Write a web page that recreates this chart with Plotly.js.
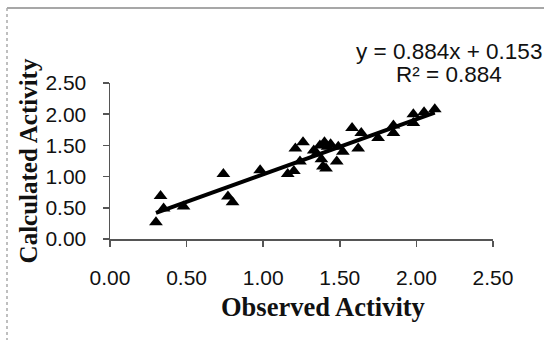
<!DOCTYPE html>
<html>
<head>
<meta charset="utf-8">
<script src="https://cdn.plot.ly/plotly-3.0.1.min.js"></script>
<style>html,body{margin:0;padding:0;background:#fff;}#chart{width:544px;height:340px;}</style>
</head>
<body>
<div id="chart"></div>
<script>
// Observed vs calculated activity
const observed = [0.30, 0.33, 0.35, 0.48, 0.74, 0.77, 0.80, 0.98, 1.16, 1.20, 1.21, 1.26, 1.24, 1.35, 1.37, 1.40, 1.44, 1.39, 1.41, 1.48, 1.49, 1.52, 1.58, 1.62, 1.64, 1.75, 1.85, 1.85, 1.98, 1.98, 2.05, 2.12, 1.42, 1.33, 1.38];
const calculated = [0.27, 0.69, 0.49, 0.52, 1.04, 0.68, 0.59, 1.10, 1.04, 1.09, 1.45, 1.55, 1.24, 1.37, 1.50, 1.55, 1.52, 1.16, 1.13, 1.24, 1.48, 1.40, 1.78, 1.45, 1.70, 1.62, 1.82, 1.70, 2.00, 1.86, 2.03, 2.08, 1.48, 1.42, 1.28];
const slope = 0.884;
const intercept = 0.153;
const r2 = 0.884;
const tickVals = [0, 0.5, 1.0, 1.5, 2.0, 2.5];
const tickText = ["0.00", "0.50", "1.00", "1.50", "2.00", "2.50"];
const xTitle = "Observed Activity";
const yTitle = "Calculated Activity";

const xMin = Math.min(...observed), xMax = Math.max(...observed);
const fitX = [xMin, xMax];
const fitY = fitX.map(v => slope * v + intercept);

const traces = [
  {x: fitX, y: fitY, mode: 'lines', line: {color: '#000', width: 4}, hoverinfo: 'skip'},
  {x: observed, y: calculated, mode: 'markers', marker: {symbol: 'triangle-up', size: 12, color: '#000'}}
];

const sans = 'Arial, "Liberation Sans", sans-serif';
const serif = '"Times New Roman", "Liberation Serif", serif';
const tickFont = {family: sans, size: 21, color: '#111'};

// pixel helpers for paper coordinates (plot area 110..493 x 83..239)
const px = p => (p - 110) / 383;
const py = p => (239 - p) / 156;

const layout = {
  width: 544, height: 340,
  margin: {l: 110, r: 51, t: 83, b: 101},
  paper_bgcolor: '#fff', plot_bgcolor: '#fff',
  showlegend: false,
  xaxis: {
    range: [0, 2.5], tickvals: tickVals, ticktext: tickText,
    showgrid: false, zeroline: false, showline: true, linecolor: '#555', linewidth: 1.5,
    ticks: 'outside', ticklen: 6, tickcolor: '#555', tickwidth: 1.5,
    tickfont: tickFont, ticklabelstandoff: 13
  },
  yaxis: {
    range: [0, 2.5], tickvals: tickVals, ticktext: tickText,
    showgrid: false, zeroline: false, showline: true, linecolor: '#555', linewidth: 1.5,
    ticks: 'outside', ticklen: 6, tickcolor: '#555', tickwidth: 1.5,
    tickfont: tickFont, ticklabelstandoff: 12,
    title: {text: '<b>' + yTitle + '</b>', font: {family: serif, size: 25, color: '#111'}, standoff: 0}
  },
  annotations: [
    {xref: 'paper', yref: 'paper', x: px(323), y: py(307), xanchor: 'center', yanchor: 'middle',
     text: '<b>' + xTitle + '</b>', showarrow: false,
     font: {family: serif, size: 26.5, color: '#111'}},
    {xref: 'paper', yref: 'paper', x: px(449), y: py(51), xanchor: 'center', yanchor: 'middle',
     text: 'y = ' + slope.toFixed(3) + 'x + ' + intercept.toFixed(3), showarrow: false,
     font: {family: sans, size: 22.5, color: '#111'}},
    {xref: 'paper', yref: 'paper', x: px(449), y: py(74), xanchor: 'center', yanchor: 'middle',
     text: 'R² = ' + r2.toFixed(3), showarrow: false,
     font: {family: sans, size: 22.5, color: '#111'}}
  ],
  shapes: [
    {type: 'line', xref: 'paper', yref: 'paper', x0: px(7), x1: px(600), y0: py(8), y1: py(8),
     line: {color: '#8a8a8a', width: 1.5}, layer: 'below'},
    {type: 'line', xref: 'paper', yref: 'paper', x0: px(7), x1: px(7), y0: py(8), y1: py(400),
     line: {color: '#aaa', width: 1.5, dash: 'dot'}, layer: 'below'}
  ]
};

Plotly.newPlot('chart', traces, layout, {displayModeBar: false, staticPlot: true});
</script>
</body>
</html>
